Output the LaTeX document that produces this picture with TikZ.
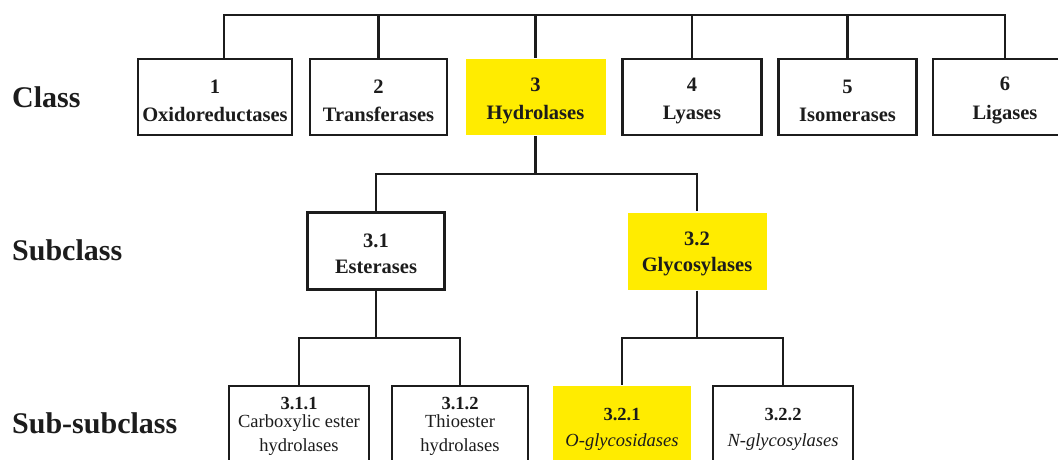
\documentclass[tikz,border=0pt]{standalone}
\usepackage{fontspec}
\setmainfont{Liberation Serif}
\definecolor{linec}{HTML}{1C1C1C}
\definecolor{hl}{HTML}{FFEC00}
\newcommand{\topstrut}{\rule{0pt}{21pt}}
\begin{document}
\begin{tikzpicture}[x=1pt,y=-1pt,
  conn/.style={draw=linec, line width=2.4pt},
  bbox/.style={draw=linec, line width=2.2pt, fill=white, align=center, inner sep=0pt, text=linec},
  hbox/.style={bbox, draw=none, fill=hl},
  lvlone/.style={minimum width=#1, minimum height=76pt, font=\bfseries\fontsize{20.5}{28.5}\selectfont},
  lvltwo/.style={minimum width=#1, minimum height=77pt, font=\bfseries\fontsize{20.5}{26}\selectfont},
  lvlthree/.style={minimum width=#1, minimum height=80pt, font=\fontsize{18.5}{24}\selectfont},
  lab/.style={anchor=west, inner sep=0pt, text=linec, font=\bfseries\fontsize{30}{36}\selectfont}
]
\useasboundingbox (0,0) rectangle (1058,460);
\fill[white] (0,0) rectangle (1058,460);

% level labels
\node[lab] (lclass) at (12,97) {Class};
\node[lab] (lsub) at (12,250) {Subclass};
\node[lab] (lsubsub) at (12,423) {Sub-subclass};

% classes
\node[bbox, lvlone=154pt] (c1) at (215,97) {\topstrut 1\\Oxidoreductases};
\node[bbox, lvlone=137pt] (c2) at (378.5,97) {\topstrut 2\\Transferases};
\node[hbox, lvlone=140pt] (c3) at (535.5,97) {\topstrut 3\\Hydrolases};
\node[bbox, lvlone=139pt] (c4) at (692,97) {\topstrut 4\\Lyases};
\node[bbox, lvlone=138pt] (c5) at (847.5,97) {\topstrut 5\\Isomerases};
\node[bbox, lvlone=144pt] (c6) at (1005,97) {\topstrut 6\\Ligases};

% subclasses
\node[bbox, lvltwo=137pt] (s1) at (376,251) {\rule{0pt}{20pt}3.1\\Esterases};
\node[hbox, lvltwo=139pt] (s2) at (697,251) {\rule{0pt}{20pt}3.2\\Glycosylases};

% sub-subclasses
\node[bbox, lvlthree=140pt] (d1) at (299,426) {\textbf{3.1.1}\\[-6pt]Carboxylic ester\\hydrolases};
\node[bbox, lvlthree=136pt] (d2) at (460,426) {\textbf{3.1.2}\\[-6pt]Thioester\\hydrolases};
\node[hbox, lvlthree=138pt] (d3) at (622,426) {\rule{0pt}{18pt}\textbf{3.2.1}\\[2pt]\textit{O-glycosidases}};
\node[bbox, lvlthree=140pt] (d4) at (783,426) {\rule{0pt}{18pt}\textbf{3.2.2}\\[2pt]\textit{N-glycosylases}};

% connectors
\coordinate (ytop) at (0,15);
\coordinate (ymid) at (0,174);
\coordinate (ylow) at (0,338);

\draw[conn] ([xshift=9pt]c1.north) |- (ytop -| c6.north) -- (c6.north);
\foreach \n in {c2,c3,c4,c5}{\draw[conn] (\n.north) -- (\n.north |- ytop);}

\draw[conn] (c3.south) -- (c3.south |- ymid);
\draw[conn] (s1.north) |- (ymid -| s2.north) -- (s2.north);

\draw[conn] (s1.south) -- (s1.south |- ylow);
\draw[conn] (d1.north) |- (ylow -| d2.north) -- (d2.north);
\draw[conn] (s2.south) -- (s2.south |- ylow);
\draw[conn] (d3.north) |- (ylow -| d4.north) -- (d4.north);
\end{tikzpicture}
\end{document}
